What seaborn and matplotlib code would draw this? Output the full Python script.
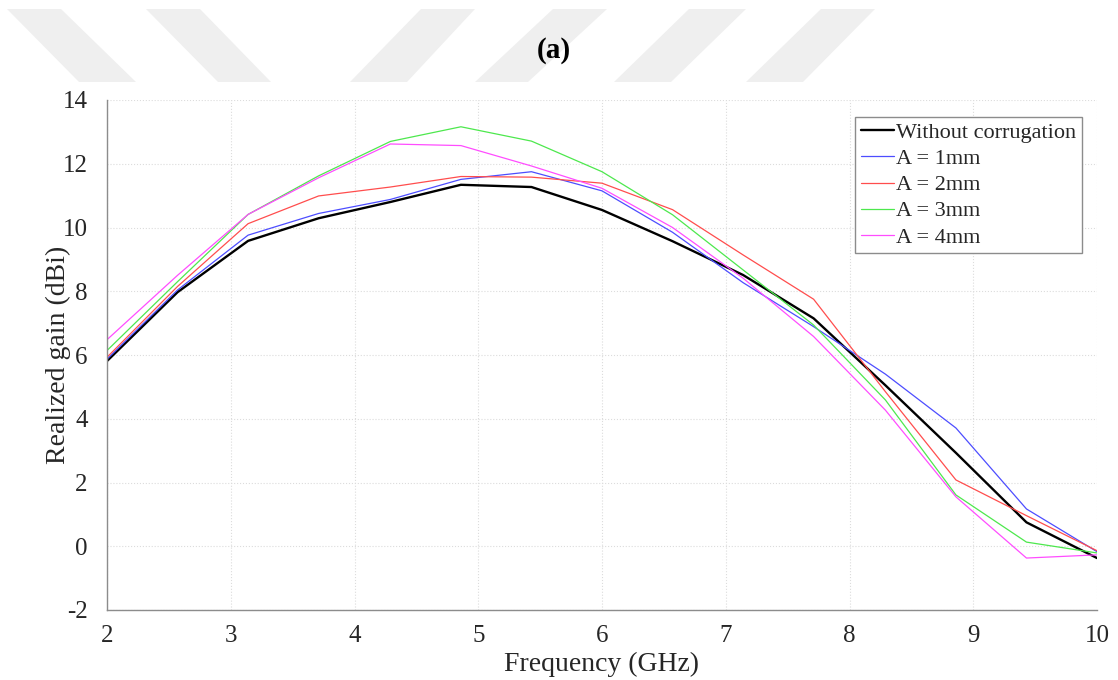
import matplotlib
matplotlib.use("Agg")
import matplotlib.pyplot as plt
from matplotlib.patches import Polygon
import seaborn as sns
import pandas as pd

# Frequency sweep (GHz) and realized gain (dBi) for each corrugation depth
freq = [2.0, 2.57, 3.14, 3.71, 4.29, 4.86, 5.43, 6.0, 6.57, 7.14, 7.71, 8.29, 8.86, 9.43, 10.0]
gain_plain = [5.81, 7.97, 9.58, 10.29, 10.80, 11.34, 11.27, 10.55, 9.57, 8.51, 7.15, 5.05, 2.93, 0.75, -0.37]
gain_a1 = [5.87, 8.04, 9.76, 10.44, 10.88, 11.51, 11.75, 11.15, 9.85, 8.27, 6.89, 5.40, 3.71, 1.17, -0.17]
gain_a2 = [5.93, 8.15, 10.12, 10.99, 11.27, 11.60, 11.58, 11.39, 10.56, 9.14, 7.75, 4.85, 2.08, 0.96, -0.14]
gain_a3 = [6.14, 8.30, 10.41, 11.62, 12.70, 13.16, 12.71, 11.75, 10.40, 8.67, 6.94, 4.59, 1.61, 0.13, -0.21]
gain_a4 = [6.48, 8.50, 10.41, 11.56, 12.62, 12.57, 11.93, 11.23, 10.00, 8.41, 6.58, 4.27, 1.55, -0.37, -0.27]

labels = ["Without corrugation", "A = 1mm", "A = 2mm", "A = 3mm", "A = 4mm"]
series = [gain_plain, gain_a1, gain_a2, gain_a3, gain_a4]
colors = ["#000000", "#4d4dff", "#ff4d4d", "#4de84d", "#ff4dff"]
widths = [1.7, 0.9, 0.9, 0.9, 0.9]

sns.set_style("white")
plt.rcParams["font.family"] = ["Liberation Serif", "DejaVu Serif"]
plt.rcParams["axes.unicode_minus"] = False

fig = plt.figure(figsize=(11.18, 6.8), dpi=100)
ax = fig.add_axes([107 / 1118, 70 / 680, 990 / 1118, 510 / 680])

# faint diagonal banner stripes across the top of the figure
stripe_tops = [(7, 61, 79, 136), (146, 200, 218, 271),
               (421, 475, 350, 407), (553, 607, 475, 528),
               (689, 746, 614, 671), (821, 875, 746, 803)]
y_top, y_bot = 9, 82
for tl, tr, bl, br in stripe_tops:
    pts = [(tl / 1118, 1 - y_top / 680), (tr / 1118, 1 - y_top / 680),
           (br / 1118, 1 - y_bot / 680), (bl / 1118, 1 - y_bot / 680)]
    fig.patches.append(Polygon(pts, closed=True, transform=fig.transFigure,
                               facecolor="#efefef", edgecolor="none", zorder=0))

for lab, vals, col, lw in zip(labels, series, colors, widths):
    df = pd.DataFrame({"Frequency": freq, "Gain": vals})
    sns.lineplot(data=df, x="Frequency", y="Gain", ax=ax, color=col,
                 linewidth=lw, label=lab)

ax.set_xlim(2, 10)
ax.set_ylim(-2, 14)
ax.set_xticks(range(2, 11))
ax.set_yticks(range(-2, 15, 2))
ax.grid(True, linestyle=":", color="#dcdcdc", linewidth=0.8)
ax.set_axisbelow(True)

for side in ("top", "right"):
    ax.spines[side].set_visible(False)
for side in ("left", "bottom"):
    ax.spines[side].set_color("#8c8c8c")
    ax.spines[side].set_linewidth(1.0)

ax.tick_params(axis="both", direction="in", length=7, width=0.9,
               color="#8c8c8c", labelcolor="#262626", labelsize=18)
ax.tick_params(axis="x", pad=11)
ax.tick_params(axis="y", pad=14)

ax.set_xlabel("Frequency (GHz)", fontsize=20, color="#262626")
ax.set_ylabel("Realized gain (dBi)", fontsize=20, color="#262626")
ax.xaxis.set_label_coords(0.5, -0.082)
ax.yaxis.set_label_coords(-0.036, 0.5)

leg = ax.legend(loc="upper right", bbox_to_anchor=(0.9848, 0.9667),
                borderaxespad=0, fontsize=16, frameon=True, fancybox=False,
                handlelength=1.5, handletextpad=0.1, labelspacing=0.25,
                borderpad=0.25)
leg.get_frame().set_edgecolor("#8c8c8c")
leg.get_frame().set_linewidth(1.0)
leg.get_frame().set_alpha(1)

fig.text(0.495, 1 - 50 / 680, "(a)", ha="center", va="center",
         fontsize=21, fontweight="bold", color="black")

fig.savefig("out.png", dpi=100)
